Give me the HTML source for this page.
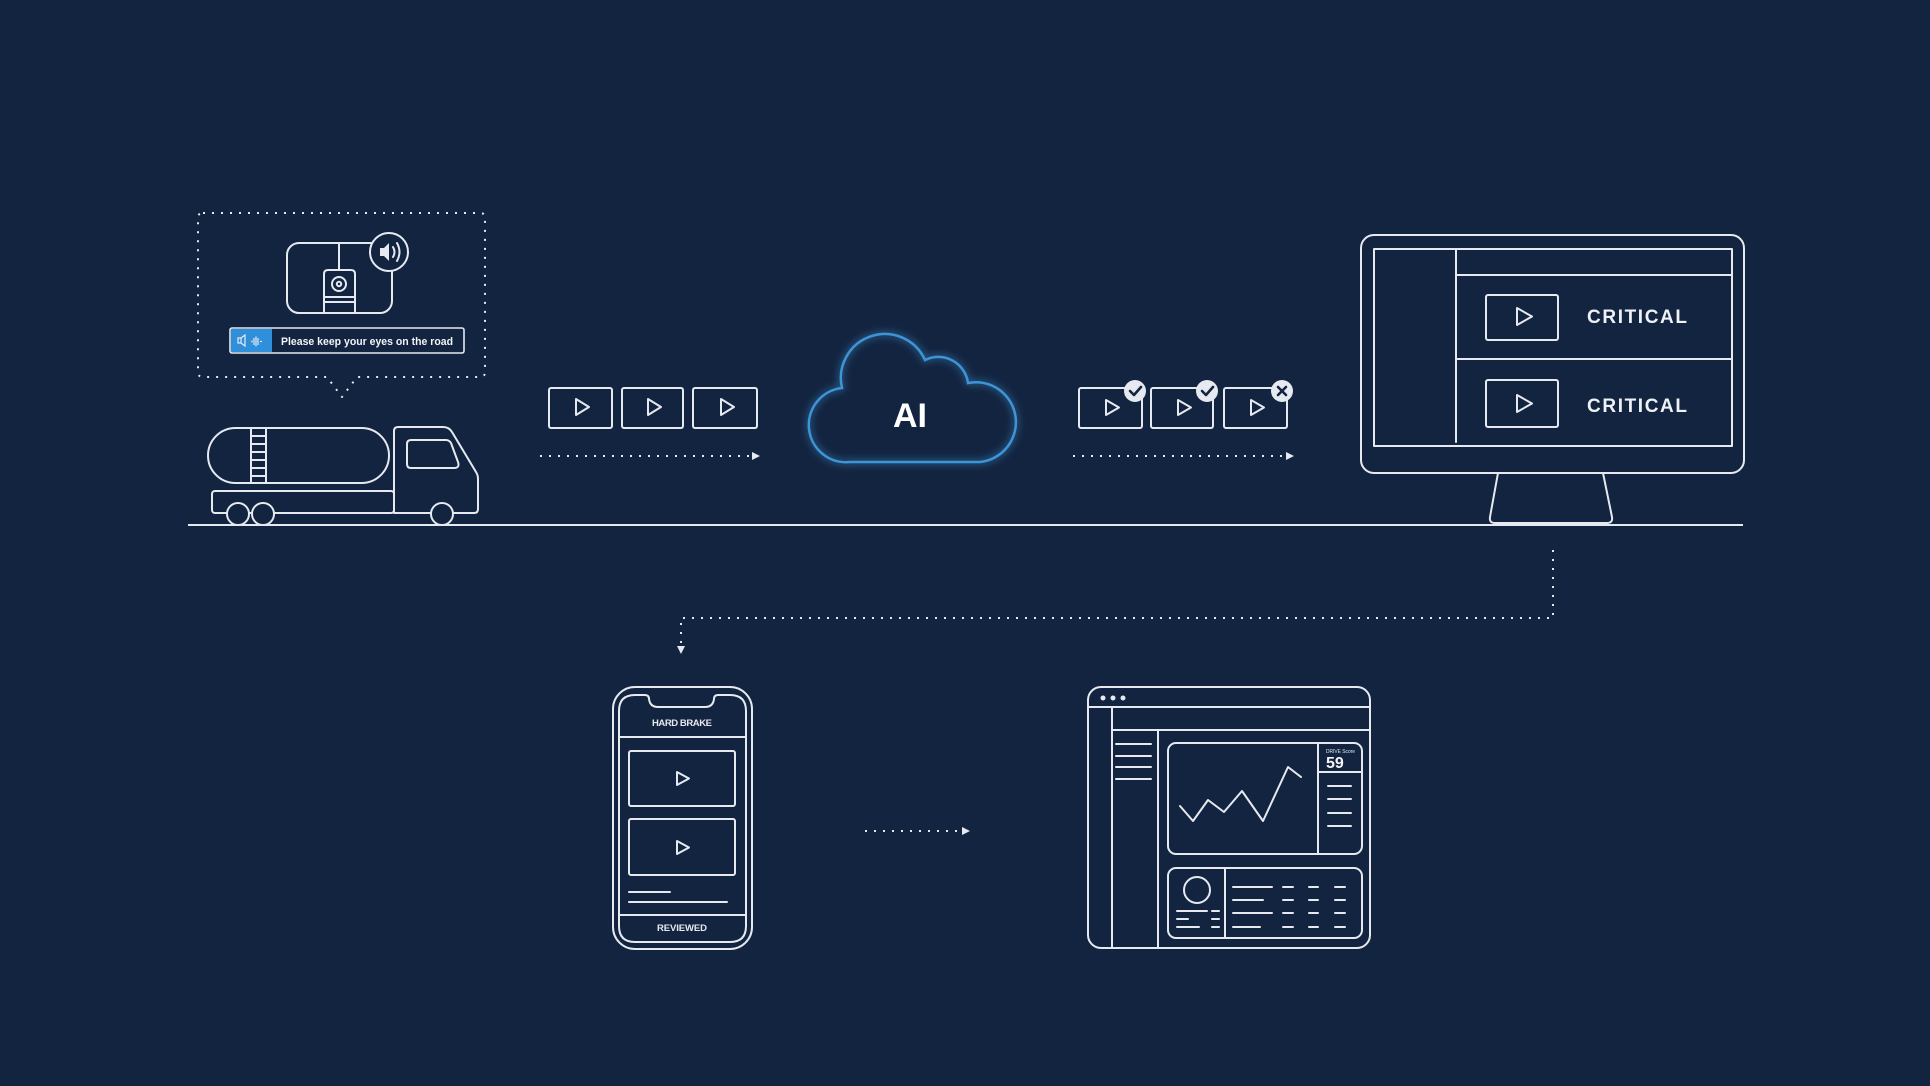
<!DOCTYPE html>
<html>
<head>
<meta charset="utf-8">
<style>
html,body{margin:0;padding:0;background:#132440;}
svg{display:block;}
text{font-family:"Liberation Sans",sans-serif;}
</style>
</head>
<body>
<svg width="1930" height="1086" viewBox="0 0 1930 1086" xmlns="http://www.w3.org/2000/svg">
<defs>
<filter id="glow" x="-20%" y="-20%" width="140%" height="140%">
<feGaussianBlur stdDeviation="4" result="b"/>
<feMerge><feMergeNode in="b"/><feMergeNode in="SourceGraphic"/></feMerge>
</filter>
</defs>
<rect x="0" y="0" width="1930" height="1086" fill="#132440"/>

<g fill="none" stroke="#e6eaf0" stroke-width="2" stroke-linejoin="round" stroke-linecap="round">

<!-- ground line -->
<line x1="188" y1="525" x2="1743" y2="525" stroke-linecap="butt"/>

<!-- speech bubble dotted -->
<path d="M203,213 H480 Q485,213 485,218 V372 Q485,377 480,377 H357 L342,397 L327,377 H203 Q198,377 198,372 V218 Q198,213 203,213 Z" stroke-dasharray="2 7" stroke-linecap="butt" stroke-width="2"/>

<!-- camera device -->
<rect x="287" y="243" width="105" height="70" rx="12"/>
<line x1="339" y1="243" x2="339" y2="270"/>
<path d="M324,313 V274 Q324,270 328,270 H351 Q355,270 355,274 V313"/>
<circle cx="339" cy="284" r="7"/>
<circle cx="339" cy="284" r="2.2"/>
<line x1="324" y1="297" x2="355" y2="297"/>
<line x1="324" y1="302" x2="355" y2="302"/>
<circle cx="389" cy="252" r="19" fill="#132440"/>
<path d="M393,247 Q396,252 393,257"/>
<path d="M397,243 Q402,252 397,261"/>

<!-- banner -->
<rect x="230" y="328" width="234" height="25" rx="2" fill="#132440" stroke-width="1.6"/>

<!-- truck -->
<rect x="208" y="428" width="181" height="55" rx="27.5"/>
<line x1="251" y1="428" x2="251" y2="483"/>
<line x1="266" y1="428" x2="266" y2="483"/>
<line x1="251" y1="436" x2="266" y2="436"/>
<line x1="251" y1="444" x2="266" y2="444"/>
<line x1="251" y1="452" x2="266" y2="452"/>
<line x1="251" y1="460" x2="266" y2="460"/>
<line x1="251" y1="468" x2="266" y2="468"/>
<line x1="251" y1="476" x2="266" y2="476"/>
<path d="M394,513 V431 Q394,427 398,427 H443 Q449,427 452,432 L476,472 Q478,475 478,479 V509 Q478,513 474,513 Z"/>
<path d="M411,440 H446 Q449,440 451,443 L458,462 Q460,468 454,468 H411 Q407,468 407,464 V444 Q407,440 411,440 Z"/>
<rect x="212" y="491" width="182" height="22" rx="3"/>
<circle cx="238" cy="514" r="11" fill="#132440"/>
<circle cx="263" cy="514" r="11" fill="#132440"/>
<circle cx="442" cy="514" r="11" fill="#132440"/>

<!-- row1 video boxes -->
<rect x="549" y="388" width="63" height="40" rx="2"/>
<polygon points="576,399 576,415 589,407"/>
<rect x="622" y="388" width="61" height="40" rx="2"/>
<polygon points="648,399 648,415 661,407"/>
<rect x="693" y="388" width="64" height="40" rx="2"/>
<polygon points="721,399 721,415 734,407"/>

<!-- row1 arrow -->
<line x1="540" y1="456" x2="751" y2="456" stroke-dasharray="2 7" stroke-linecap="butt"/>

<!-- row2 video boxes -->
<rect x="1079" y="388" width="63" height="40" rx="2"/>
<polygon points="1106,400 1106,415 1119,407.5"/>
<rect x="1151" y="388" width="62" height="40" rx="2"/>
<polygon points="1178,400 1178,415 1191,407.5"/>
<rect x="1224" y="388" width="63" height="40" rx="2"/>
<polygon points="1251,400 1251,415 1264,407.5"/>

<line x1="1073" y1="456" x2="1285" y2="456" stroke-dasharray="2 7" stroke-linecap="butt"/>

<!-- monitor -->
<rect x="1361" y="235" width="383" height="238" rx="13"/>
<rect x="1374" y="249" width="358" height="197"/>
<line x1="1456" y1="249" x2="1456" y2="442"/>
<line x1="1456" y1="275" x2="1732" y2="275"/>
<line x1="1456" y1="359" x2="1732" y2="359"/>
<rect x="1486" y="295" width="72" height="45" rx="2"/>
<polygon points="1517,308 1517,325 1532,316.5"/>
<rect x="1486" y="380" width="72" height="47" rx="2"/>
<polygon points="1517,395 1517,412 1532,403.5"/>
<path d="M1498,473 L1490,517 Q1489,523 1495,523 L1607,523 Q1613,523 1612,517 L1603,473"/>

<!-- connector monitor -> phone -->
<path d="M1553,550 V618 H681 V645" stroke-dasharray="2 7" stroke-linecap="butt"/>

<!-- phone -->
<rect x="613" y="687" width="139" height="262" rx="22"/>
<path d="M635,695 H645 Q649,695 649,699 Q650,707 658,707 H705 Q713,707 714,699 Q714,695 718,695 H730 Q746,695 746,711 V926 Q746,942 730,942 H635 Q619,942 619,926 V711 Q619,695 635,695 Z"/>
<line x1="619" y1="737" x2="746" y2="737"/>
<line x1="619" y1="915" x2="746" y2="915"/>
<rect x="629" y="751" width="106" height="55" rx="2"/>
<polygon points="677,772 677,785 689,778.5"/>
<rect x="629" y="819" width="106" height="56" rx="2"/>
<polygon points="677,841 677,854 689,847.5"/>
<line x1="629" y1="892" x2="670" y2="892"/>
<line x1="629" y1="902" x2="727" y2="902"/>

<!-- phone -> dashboard arrow -->
<line x1="865" y1="831" x2="961" y2="831" stroke-dasharray="2 7" stroke-linecap="butt"/>

<!-- dashboard -->
<rect x="1088" y="687" width="282" height="261" rx="13"/>
<line x1="1088" y1="707" x2="1370" y2="707"/>
<line x1="1112" y1="707" x2="1112" y2="948"/>
<line x1="1112" y1="730" x2="1370" y2="730"/>
<line x1="1158" y1="730" x2="1158" y2="948"/>
<line x1="1116" y1="744" x2="1151" y2="744"/>
<line x1="1116" y1="756" x2="1151" y2="756"/>
<line x1="1116" y1="767" x2="1151" y2="767"/>
<line x1="1116" y1="779" x2="1151" y2="779"/>
<rect x="1168" y="743" width="194" height="111" rx="8"/>
<line x1="1318" y1="743" x2="1318" y2="854"/>
<line x1="1318" y1="772" x2="1362" y2="772"/>
<line x1="1328" y1="786" x2="1351" y2="786"/>
<line x1="1328" y1="799" x2="1351" y2="799"/>
<line x1="1328" y1="813" x2="1351" y2="813"/>
<line x1="1328" y1="826" x2="1351" y2="826"/>
<polyline points="1180,806 1193,821 1208,800 1224,812 1242,791 1263,821 1288,767 1301,777"/>
<rect x="1168" y="868" width="194" height="70" rx="8"/>
<line x1="1225" y1="868" x2="1225" y2="938"/>
<circle cx="1197" cy="890" r="13"/>
<line x1="1177" y1="911" x2="1207" y2="911"/>
<line x1="1212" y1="911" x2="1219" y2="911"/>
<line x1="1177" y1="919" x2="1188" y2="919"/>
<line x1="1212" y1="919" x2="1219" y2="919"/>
<line x1="1177" y1="927" x2="1199" y2="927"/>
<line x1="1212" y1="927" x2="1219" y2="927"/>
<line x1="1233" y1="887" x2="1272" y2="887"/>
<line x1="1233" y1="900" x2="1263" y2="900"/>
<line x1="1233" y1="913" x2="1272" y2="913"/>
<line x1="1233" y1="927" x2="1260" y2="927"/>
<line x1="1283" y1="887" x2="1293" y2="887"/>
<line x1="1309" y1="887" x2="1318" y2="887"/>
<line x1="1335" y1="887" x2="1345" y2="887"/>
<line x1="1283" y1="900" x2="1293" y2="900"/>
<line x1="1309" y1="900" x2="1318" y2="900"/>
<line x1="1335" y1="900" x2="1345" y2="900"/>
<line x1="1283" y1="913" x2="1293" y2="913"/>
<line x1="1309" y1="913" x2="1318" y2="913"/>
<line x1="1335" y1="913" x2="1345" y2="913"/>
<line x1="1283" y1="927" x2="1293" y2="927"/>
<line x1="1309" y1="927" x2="1318" y2="927"/>
<line x1="1335" y1="927" x2="1345" y2="927"/>
</g>

<!-- filled bits -->
<g fill="#e6eaf0">
<rect x="380" y="248" width="4" height="8"/>
<polygon points="384,248 389,243 389,261 384,256"/>
<polygon points="752,452 760,456 752,460"/>
<polygon points="1286,452 1294,456 1286,460"/>
<polygon points="962,827 970,831 962,835"/>
<polygon points="677,646 685,646 681,654"/>
<circle cx="1103" cy="698" r="2.5"/>
<circle cx="1113" cy="698" r="2.5"/>
<circle cx="1123" cy="698" r="2.5"/>
<circle cx="1135" cy="391" r="11"/>
<circle cx="1207" cy="391" r="11"/>
<circle cx="1282" cy="391" r="11"/>
</g>
<g fill="none" stroke="#132440" stroke-width="2.6" stroke-linecap="round" stroke-linejoin="round">
<polyline points="1130,391 1134,395 1141,387"/>
<polyline points="1202,391 1206,395 1213,387"/>
<line x1="1278" y1="387" x2="1286" y2="395"/>
<line x1="1286" y1="387" x2="1278" y2="395"/>
</g>

<!-- banner blue part -->
<rect x="231" y="329" width="41" height="23" fill="#2f8fdb"/>
<g fill="none" stroke="#e6eaf0" stroke-width="1.2">
<rect x="238" y="338" width="3" height="5"/>
<path d="M241,338 L245,335 V346 L241,343"/>
<line x1="252" y1="340.5" x2="252" y2="342.5"/>
<line x1="254" y1="338" x2="254" y2="345"/>
<line x1="256" y1="336.5" x2="256" y2="346.5"/>
<line x1="258" y1="338" x2="258" y2="345"/>
<line x1="260" y1="341.5" x2="262" y2="341.5"/>
</g>
<text x="281" y="345" font-size="11" font-weight="bold" fill="#f2f4f7" textLength="172" lengthAdjust="spacingAndGlyphs">Please keep your eyes on the road</text>

<!-- cloud -->
<path d="M850,462 A37,37 0 0 1 842,388 A44,44 0 0 1 925,360 A30,30 0 0 1 968,383 A40,40 0 1 1 980,462 Z" fill="none" stroke="#3d95d6" stroke-width="2.5" filter="url(#glow)"/>
<text x="910" y="427" font-size="34" font-weight="bold" fill="#ffffff" text-anchor="middle">AI</text>

<!-- monitor text -->
<text x="1587" y="323" font-size="19" font-weight="bold" fill="#eef1f5" textLength="100" lengthAdjust="spacing">CRITICAL</text>
<text x="1587" y="412" font-size="19" font-weight="bold" fill="#eef1f5" textLength="100" lengthAdjust="spacing">CRITICAL</text>

<!-- phone text -->
<text x="682" y="726" font-size="9.5" font-weight="bold" fill="#e6eaf0" text-anchor="middle" textLength="60" lengthAdjust="spacing">HARD BRAKE</text>
<text x="682" y="931" font-size="9.5" font-weight="bold" fill="#e6eaf0" text-anchor="middle" textLength="50" lengthAdjust="spacing">REVIEWED</text>

<!-- dashboard text -->
<text x="1326" y="753" font-size="5" fill="#e6eaf0" textLength="29" lengthAdjust="spacingAndGlyphs">DRIVE Score</text>
<text x="1326" y="768" font-size="16" font-weight="bold" fill="#f2f4f7">59</text>
</svg>
</body>
</html>
